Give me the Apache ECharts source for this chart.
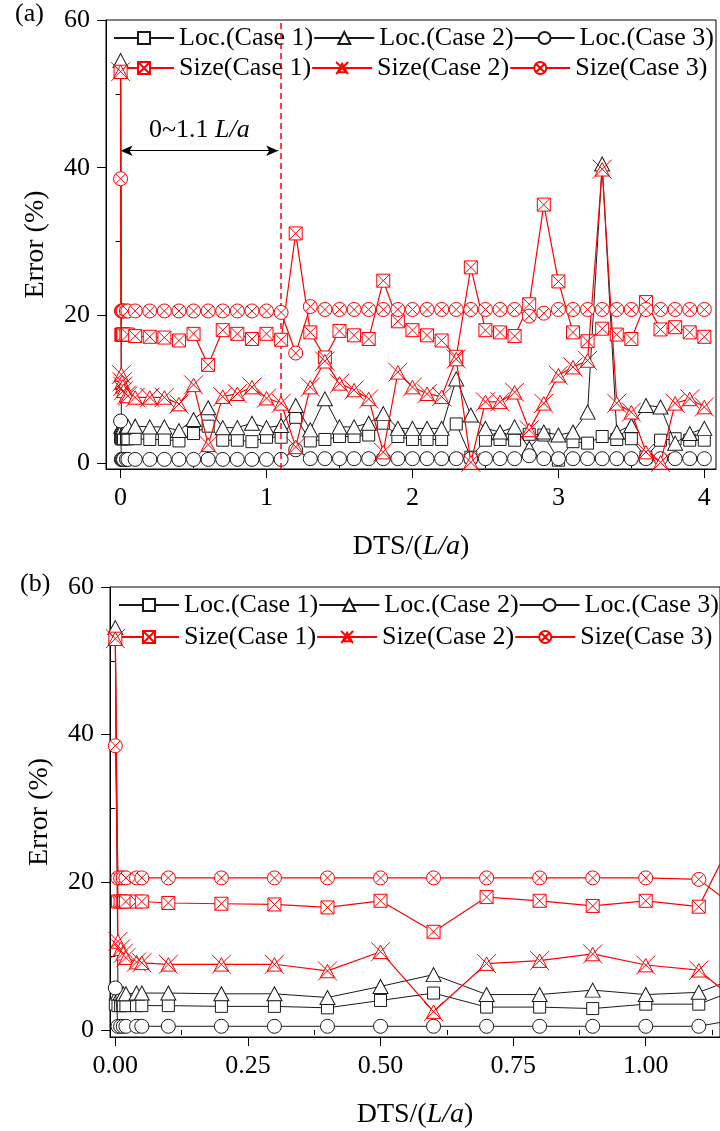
<!DOCTYPE html>
<html>
<head>
<meta charset="utf-8">
<script src="https://cdn.jsdelivr.net/npm/echarts@6/dist/echarts.min.js"></script>
<style>
  html, body { margin: 0; padding: 0; background: #fff; }
  #chart { width: 720px; height: 1131px; }
</style>
</head>
<body>
<div id="chart"></div>
<script>
// DTS in units of L/a
const dts = [0, 0.005, 0.01, 0.015, 0.02, 0.04, 0.05,
  0.1, 0.2, 0.3, 0.4, 0.5, 0.6, 0.7, 0.8, 0.9, 1.0,
  1.1, 1.2, 1.3, 1.4, 1.5, 1.6, 1.7, 1.8, 1.9, 2.0,
  2.1, 2.2, 2.3, 2.4, 2.5, 2.6, 2.7, 2.8, 2.9, 3.0,
  3.1, 3.2, 3.3, 3.4, 3.5, 3.6, 3.7, 3.8, 3.9, 4.0];

// error (%)
const locCase1 = [3.5, 3.3, 3.3, 3.3, 3.3, 3.3, 3.3,
  3.3, 3.2, 3.2, 3.0, 4.0, 5.0, 3.1, 3.1, 2.9, 3.5,
  3.5, 6.2, 3.0, 3.2, 3.6, 3.6, 3.8, 5.4, 3.6, 3.2,
  3.2, 3.2, 5.3, 0.8, 3.1, 3.2, 3.1, 3.9, 3.8, 0.4,
  2.9, 2.7, 3.6, 3.2, 3.3, 0.8, 3.1, 3.3, 3.1, 3.1];
const locCase2 = [54.5, 5.0, 5.0, 4.9, 4.9, 5.0, 5.0,
  5.0, 4.9, 4.9, 4.4, 5.9, 7.5, 4.8, 4.8, 5.4, 4.8,
  5.1, 7.8, 4.5, 8.7, 4.9, 4.9, 5.4, 6.7, 4.7, 4.7,
  4.7, 4.7, 11.4, 6.5, 4.7, 4.2, 4.9, 2.0, 4.2, 3.8,
  4.2, 6.9, 40.5, 4.2, 5.1, 7.8, 7.6, 2.7, 4.0, 4.7];
const locCase3 = [5.7, 0.5, 0.5, 0.5, 0.5, 0.5, 0.5,
  0.5, 0.5, 0.5, 0.5, 0.5, 0.5, 0.5, 0.5, 0.5, 0.5,
  0.5, 1.8, 0.6, 0.6, 0.6, 0.6, 0.6, 0.6, 0.6, 0.6,
  0.6, 0.6, 0.6, 0.6, 0.6, 0.6, 0.6, 1.0, 0.6, 0.6,
  0.6, 0.6, 0.6, 0.6, 0.6, 0.6, 0.6, 0.6, 0.6, 0.6];
const sizeCase1 = [53, 17.4, 17.4, 17.4, 17.4, 17.4, 17.4,
  17.2, 17.1, 17.0, 16.6, 17.5, 13.3, 18.0, 17.5, 16.8, 17.5,
  16.7, 31.1, 17.7, 14.3, 17.9, 17.3, 16.8, 24.7, 19.2, 18.0,
  17.3, 16.6, 14.4, 26.5, 18.0, 17.7, 17.2, 21.5, 35.0, 24.6,
  17.7, 16.5, 18.2, 17.4, 16.8, 21.8, 18.1, 18.4, 17.7, 17.1];
const sizeCase2 = [53, 12.0, 11.0, 10.4, 9.8, 9.2, 9.1,
  8.9, 8.9, 8.9, 8.0, 10.6, 2.5, 9.0, 9.4, 10.3, 8.8,
  8.1, 2.2, 10.3, 13.8, 10.8, 9.9, 8.7, 1.5, 12.3, 10.3,
  9.4, 9.0, 14.1, 0.1, 8.3, 8.3, 9.6, 4.5, 8.1, 11.9,
  13.0, 13.9, 39.8, 8.1, 6.9, 1.5, 0.1, 8.1, 8.7, 7.6];
const sizeCase3 = [38.5, 20.6, 20.6, 20.6, 20.6, 20.6, 20.6,
  20.6, 20.6, 20.6, 20.6, 20.6, 20.6, 20.6, 20.6, 20.6, 20.6,
  20.4, 14.9, 21.2, 20.8, 20.8, 20.8, 20.8, 20.8, 20.8, 20.8,
  20.8, 20.8, 20.8, 20.8, 20.8, 20.8, 20.8, 19.9, 20.3, 20.8,
  20.8, 20.8, 20.8, 20.8, 20.8, 20.8, 20.8, 20.8, 20.8, 20.8];

const seriesNames = ['Loc.(Case 1)', 'Loc.(Case 2)', 'Loc.(Case 3)',
  'Size(Case 1)', 'Size(Case 2)', 'Size(Case 3)'];
const seriesValues = [locCase1, locCase2, locCase3, sizeCase1, sizeCase2, sizeCase3];

// tick labels
const yTicks = [0, 20, 40, 60];
const yMinorTicks = [10, 30, 50];
const xTicksA = [0, 1, 2, 3, 4];
const xMinorA = [0.5, 1.5, 2.5, 3.5];
const xTicksB = [0, 0.25, 0.5, 0.75, 1.0];
const xMinorB = [0.125, 0.375, 0.625, 0.875, 1.125];

// annotation in panel (a)
const regionEnd = 1.1;

const FONT = '"Liberation Serif", "Times New Roman", serif';
const RED = '#ff0000';
const BLACK = '#1a1a1a';

const markers = [
  { symbol: 'rect', size: 12, color: BLACK },
  { symbol: 'triangle', size: [15, 14], color: BLACK },
  { symbol: 'circle', size: 14, color: BLACK },
  { symbol: 'path://M0,0H10V10H0Z M0,0L10,10 M10,0L0,10', size: 13, color: RED },
  { symbol: 'path://M5,1.5L8.8,8.6H1.2Z M0,0L10,10 M10,0L0,10', size: 19, color: RED },
  { symbol: 'path://M10,5A5,5 0 1 1 0,5A5,5 0 1 1 10,5Z M1.46,1.46L8.54,8.54 M8.54,1.46L1.46,8.54', size: 14, color: RED }
];

const chart = echarts.init(document.getElementById('chart'));

const panels = [
  { grid: { left: 106, top: 20, width: 610, height: 449 }, xMin: -0.1, xMax: 4.08, yMin: -0.8,
    xTicks: xTicksA, xMinor: xMinorA, fmt: v => String(v) },
  { grid: { left: 110, top: 587, width: 610, height: 450 }, xMin: -0.01, xMax: 1.14, yMin: -0.95,
    xTicks: xTicksB, xMinor: xMinorB, fmt: v => v.toFixed(2) }
];

const xAxes = [];
const yAxes = [];
const series = [];

panels.forEach((p, pi) => {
  const tickStyle = { color: '#000', width: 1 };
  xAxes.push({
    type: 'value', gridIndex: pi, min: p.xMin, max: p.xMax, position: 'bottom',
    name: 'DTS/({i|L/a})', nameLocation: 'middle', nameGap: 64,
    nameTextStyle: { fontFamily: FONT, fontSize: 28, color: '#000',
      rich: { i: { fontFamily: FONT, fontSize: 28, fontStyle: 'italic', color: '#000' } } },
    axisLine: { show: true, onZero: false, lineStyle: tickStyle },
    axisTick: { show: true, inside: false, length: 9, customValues: p.xTicks, lineStyle: tickStyle },
    axisLabel: { show: true, margin: 16, customValues: p.xTicks, formatter: p.fmt,
      fontFamily: FONT, fontSize: 26, color: '#000' },
    splitLine: { show: false }
  });
  xAxes.push({
    type: 'value', gridIndex: pi, min: p.xMin, max: p.xMax, position: 'bottom',
    axisLine: { show: false },
    axisTick: { show: true, inside: false, length: 5, customValues: p.xMinor, lineStyle: tickStyle },
    axisLabel: { show: false },
    splitLine: { show: false }
  });
  yAxes.push({
    type: 'value', gridIndex: pi, min: p.yMin, max: 60, position: 'left',
    name: 'Error (%)', nameLocation: 'middle', nameGap: 56, nameRotate: 90,
    nameTextStyle: { fontFamily: FONT, fontSize: 28, color: '#000' },
    axisLine: { show: true, onZero: false, lineStyle: tickStyle },
    axisTick: { show: true, inside: false, length: 9, customValues: yTicks, lineStyle: tickStyle },
    axisLabel: { show: true, margin: 16, customValues: yTicks,
      fontFamily: FONT, fontSize: 26, color: '#000' },
    splitLine: { show: false }
  });
  yAxes.push({
    type: 'value', gridIndex: pi, min: p.yMin, max: 60, position: 'left',
    axisLine: { show: false },
    axisTick: { show: true, inside: false, length: 5, customValues: yMinorTicks, lineStyle: tickStyle },
    axisLabel: { show: false },
    splitLine: { show: false }
  });

  seriesNames.forEach((name, k) => {
    const m = markers[k];
    const s = {
      name: name, type: 'line',
      xAxisIndex: pi * 2, yAxisIndex: pi * 2,
      data: dts.map((x, i) => [x, seriesValues[k][i]]),
      symbol: m.symbol, symbolSize: m.size, showAllSymbol: true,
      itemStyle: { color: '#fff', borderColor: m.color, borderWidth: 1 },
      lineStyle: { color: m.color, width: k < 3 ? 1 : 1.2 },
      emphasis: { disabled: true },
      silent: true, clip: true,
      z: 2 + k
    };
    if (pi === 0 && k === 0) {
      s.markLine = {
        silent: true, symbol: ['arrow', 'arrow'], symbolSize: [8, 12], animation: false,
        lineStyle: { color: '#000', width: 1, type: 'solid' },
        label: { show: true, position: 'insideMiddleTop', distance: 8,
          formatter: '0~' + regionEnd + ' {i|L/a}',
          fontFamily: FONT, fontSize: 26, color: '#000',
          rich: { i: { fontFamily: FONT, fontSize: 26, fontStyle: 'italic', color: '#000' } } },
        data: [[{ coord: [0, 42.3] }, { coord: [regionEnd - 0.02, 42.3] }]]
      };
    }
    if (pi === 0 && k === 1) {
      s.markLine = {
        silent: true, symbol: 'none', animation: false,
        lineStyle: { color: RED, width: 1.5, type: [6, 4] },
        label: { show: false },
        data: [{ xAxis: regionEnd }]
      };
    }
    series.push(s);
  });
});

const legendCommon = {
  orient: 'horizontal', itemWidth: 60, itemHeight: 15, itemGap: 0, padding: 0,
  selectedMode: false,
  textStyle: { fontFamily: FONT, fontSize: 26, color: '#000' }
};

chart.setOption({
  animation: false,
  backgroundColor: '#fff',
  grid: panels.map(p => Object.assign({ show: true, borderColor: '#000', borderWidth: 1,
    backgroundColor: 'transparent' }, p.grid)),
  xAxis: xAxes,
  yAxis: yAxes,
  legend: [
    Object.assign({ data: seriesNames.slice(0, 3), left: 113, top: 25 }, legendCommon),
    Object.assign({ data: seriesNames.slice(3), left: 113, top: 55 }, legendCommon),
    Object.assign({ data: seriesNames.slice(0, 3), left: 118, top: 592 }, legendCommon),
    Object.assign({ data: seriesNames.slice(3), left: 118, top: 624 }, legendCommon)
  ],
  graphic: [
    { type: 'text', left: 15, top: 1, style: { text: '(a)', font: '26px ' + FONT, fill: '#000' } },
    { type: 'text', left: 20, top: 571, style: { text: '(b)', font: '26px ' + FONT, fill: '#000' } }
  ],
  series: series
});
</script>
</body>
</html>
